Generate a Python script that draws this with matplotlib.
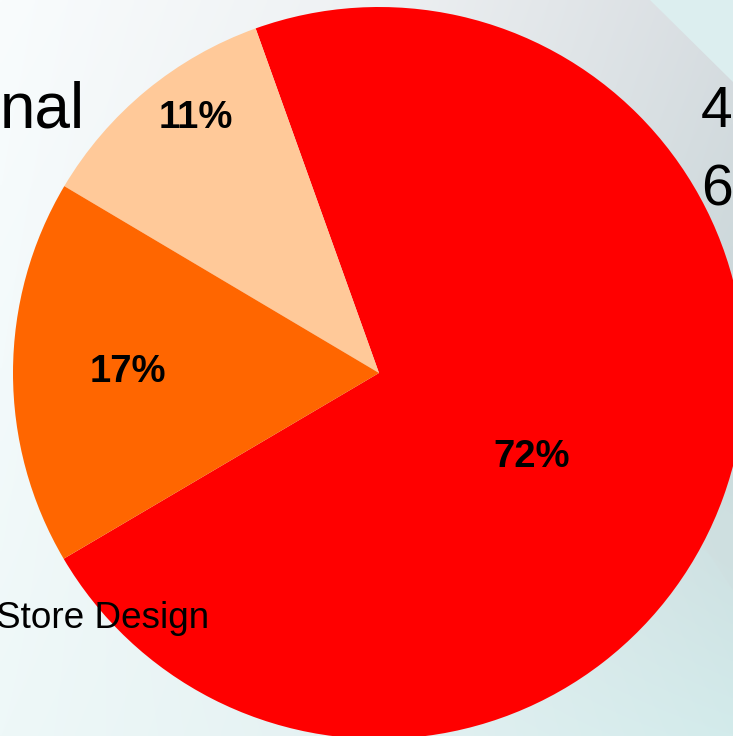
import matplotlib.pyplot as plt
import numpy as np

plt.rcParams['font.family'] = ['Liberation Sans', 'DejaVu Sans']

# slice data
shares = [72, 11, 17]
colors = ['#ff0000', '#ffc999', '#ff6600']
pct_labels = ['72%', '11%', '17%']

W, H = 733, 736
cx, cy, r = 379, 363, 366

fig = plt.figure(figsize=(W / 100, H / 100), dpi=100)
ax = fig.add_axes([0, 0, 1, 1])

# soft slide background: bilinear blend of a few anchor colours
def hex2rgb(h):
    h = h.lstrip('#')
    return np.array([int(h[i:i + 2], 16) / 255 for i in (0, 2, 4)])

grid = np.array([
    [hex2rgb('#eef8f8'), hex2rgb('#e4f1f2'), hex2rgb('#d3ebeb')],   # bottom row
    [hex2rgb('#f3fafb'), hex2rgb('#e6eced'), hex2rgb('#c9d7d9')],   # middle row
    [hex2rgb('#f9fcfd'), hex2rgb('#eef1f3'), hex2rgb('#d8dde1')],   # top row
])
ny, nx = 200, 200
gy = np.linspace(0, 2, ny)
gx = np.linspace(0, 2, nx)
iy = np.clip(gy.astype(int), 0, 1)
ix = np.clip(gx.astype(int), 0, 1)
fy = (gy - iy)[:, None, None]
fx = (gx - ix)[None, :, None]
c00 = grid[iy][:, ix]
c01 = grid[iy][:, ix + 1]
c10 = grid[iy + 1][:, ix]
c11 = grid[iy + 1][:, ix + 1]
bg = (c00 * (1 - fx) * (1 - fy) + c01 * fx * (1 - fy)
      + c10 * (1 - fx) * fy + c11 * fx * fy)
ax.imshow(bg, extent=[0, W, 0, H], origin='lower', aspect='auto',
          interpolation='bilinear', zorder=0)
# lighter diagonal facet in the top right corner
ax.fill([650, W, W], [H, H, H - 82], color='#dceeef', zorder=0.5, lw=0)
# faint darker facet lower right
ax.fill([700, W, W], [H - 540, H - 500, H - 590], color='#cfdfe0',
        zorder=0.5, lw=0, alpha=0.6)

wedges, texts, autotexts = ax.pie(
    shares, colors=colors, startangle=210.5, counterclock=True,
    center=(cx, cy), radius=r, autopct='%1.0f%%', frame=True,
    wedgeprops=dict(linewidth=0, zorder=2),
    textprops=dict(fontsize=27.5, fontweight='bold', color='black'))

# percentage label positions (pixel coords)
label_xy = [(532, 279), (196, 618), (128, 364)]
for t, s, (x, y) in zip(autotexts, pct_labels, label_xy):
    t.set_text(s)
    t.set_position((x, y))
    t.set_zorder(3)

# slide text around the chart
ax.text(0, 608, 'nal', fontsize=46, ha='left', va='baseline', zorder=1)
ax.text(701, 609, '4', fontsize=41, ha='left', va='baseline', zorder=1)
ax.text(701, 531, '6', fontsize=41, ha='left', va='baseline', zorder=1)
ax.text(209, 108, 'Store Design', fontsize=26.6, ha='right',
        va='baseline', zorder=4)

ax.set_xlim(0, W)
ax.set_ylim(0, H)
ax.set_aspect('auto')
ax.set_axis_off()

fig.savefig('out.png', dpi=100)
